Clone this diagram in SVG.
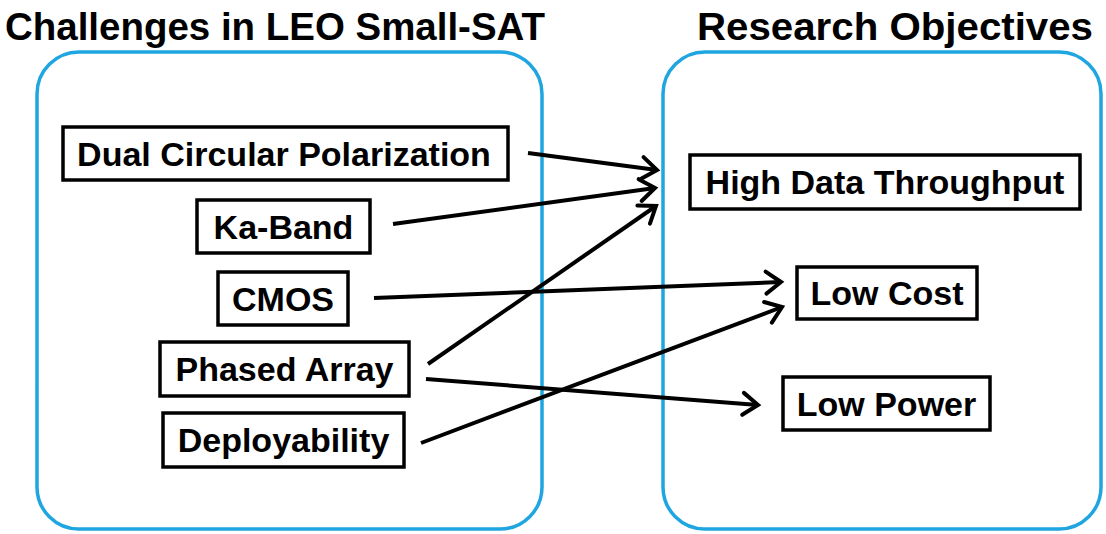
<svg xmlns="http://www.w3.org/2000/svg" width="1106" height="534" viewBox="0 0 1106 534">
<style>
.title{font-family:"Liberation Sans",Arial,sans-serif;font-weight:bold;font-size:39px;fill:#000}
.container{fill:none;stroke:#1FA5E0;stroke-width:3.5}
.box{fill:#fff;stroke:#000;stroke-width:3.5}
.label{font-family:"Liberation Sans",Arial,sans-serif;font-weight:bold;font-size:34px;fill:#000;text-anchor:middle}
.conn{fill:none;stroke:#000;stroke-width:4;marker-end:url(#arrow)}
</style>
<defs>
<marker id="arrow" markerUnits="userSpaceOnUse" viewBox="-20 -14 24 28" markerWidth="24" markerHeight="28" refX="0" refY="0" orient="auto">
<path d="M-15,-11 L0,0 L-15,11" fill="none" stroke="#000" stroke-width="4" stroke-linecap="round"/>
</marker>
</defs>
<rect width="1106" height="534" fill="#fff"/>
<g id="left-panel">
<rect class="container" x="37" y="52" width="505" height="477" rx="42"/>
<text class="title" x="5" y="40" textLength="540" lengthAdjust="spacingAndGlyphs">Challenges in LEO Small-SAT</text>
</g>
<g id="right-panel">
<rect class="container" x="663" y="52" width="438" height="477" rx="42"/>
<text class="title" x="697" y="40" textLength="396" lengthAdjust="spacingAndGlyphs">Research Objectives</text>
</g>
<g id="connectors">
<line class="conn" x1="528" y1="153" x2="657" y2="170"/>
<line class="conn" x1="393" y1="224" x2="655" y2="188"/>
<line class="conn" x1="428" y1="364" x2="656" y2="206"/>
<line class="conn" x1="374" y1="298" x2="781" y2="282"/>
<line class="conn" x1="421" y1="443" x2="782" y2="307"/>
<line class="conn" x1="426" y1="379" x2="758" y2="405"/>
</g>
<g id="dual-circular-polarization">
<rect class="box" x="63" y="127" width="445" height="53"/>
<text class="label" x="284" y="165.5">Dual Circular Polarization</text>
</g>
<g id="ka-band">
<rect class="box" x="197" y="200" width="173" height="53"/>
<text class="label" x="283.5" y="238.5">Ka-Band</text>
</g>
<g id="cmos">
<rect class="box" x="218" y="272" width="130" height="53"/>
<text class="label" x="283" y="310.5">CMOS</text>
</g>
<g id="phased-array">
<rect class="box" x="160" y="342" width="249" height="54"/>
<text class="label" x="284.5" y="381">Phased Array</text>
</g>
<g id="deployability">
<rect class="box" x="163" y="413" width="241" height="54"/>
<text class="label" x="283.5" y="452">Deployability</text>
</g>
<g id="high-data-throughput">
<rect class="box" x="690" y="155" width="390" height="54"/>
<text class="label" x="885" y="194">High Data Throughput</text>
</g>
<g id="low-cost">
<rect class="box" x="797" y="267" width="180" height="52"/>
<text class="label" x="887" y="305">Low Cost</text>
</g>
<g id="low-power">
<rect class="box" x="783" y="377" width="207" height="53"/>
<text class="label" x="886.5" y="415.5">Low Power</text>
</g>
</svg>
